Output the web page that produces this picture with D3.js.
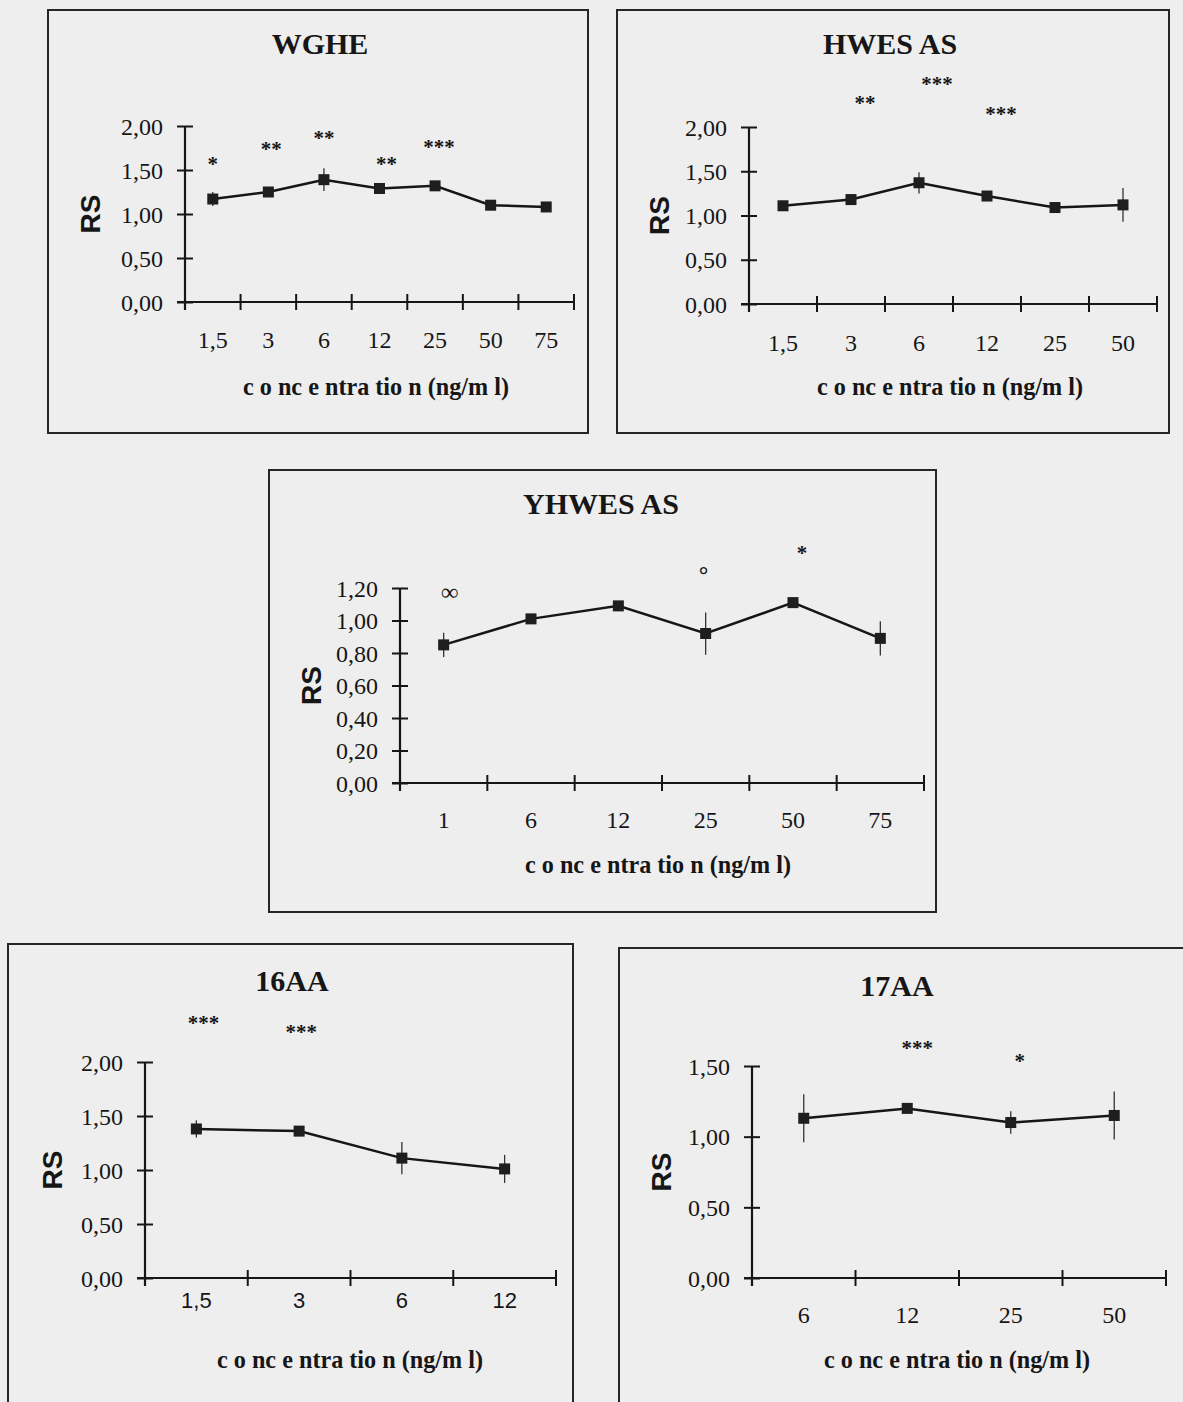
<!DOCTYPE html>
<html>
<head>
<meta charset="utf-8">
<script src="https://cdn.jsdelivr.net/npm/d3@7"></script>
<style>
  body { margin: 0; background: #eeeeee; }
  svg { display: block; }
</style>
</head>
<body>
<div id="fig"></div>
<script>
// Data (RS = mean, err = error bar half length)
const wgheConc = ["1,5", "3", "6", "12", "25", "50", "75"];
const wgheRS   = [1.17, 1.25, 1.39, 1.29, 1.32, 1.10, 1.08];
const wgheErr  = [0.08, 0.04, 0.13, 0.04, 0.04, 0.03, 0.03];
const wgheSig  = ["*", "**", "**", "**", "***", "", ""];

const hwesConc = ["1,5", "3", "6", "12", "25", "50"];
const hwesRS   = [1.11, 1.18, 1.37, 1.22, 1.09, 1.12];
const hwesErr  = [0.04, 0.04, 0.12, 0.04, 0.03, 0.19];
const hwesSig  = ["", "**", "***", "***", "", ""];

const yhwesConc = ["1", "6", "12", "25", "50", "75"];
const yhwesRS   = [0.85, 1.01, 1.09, 0.92, 1.11, 0.89];
const yhwesErr  = [0.075, 0.02, 0.02, 0.13, 0.03, 0.105];
const yhwesSig  = ["\u221E", "", "", "\u00B0", "*", ""];

const aa16Conc = ["1,5", "3", "6", "12"];
const aa16RS   = [1.38, 1.36, 1.11, 1.01];
const aa16Err  = [0.08, 0.04, 0.15, 0.13];
const aa16Sig  = ["***", "***", "", ""];

const aa17Conc = ["6", "12", "25", "50"];
const aa17RS   = [1.13, 1.20, 1.10, 1.15];
const aa17Err  = [0.17, 0.03, 0.08, 0.17];
const aa17Sig  = ["", "***", "*", ""];

const ticks2  = [0, 0.5, 1, 1.5, 2];
const ticks12 = [0, 0.2, 0.4, 0.6, 0.8, 1.0, 1.2];
const ticks15 = [0, 0.5, 1, 1.5];

const xTitle = "c o nc e ntra tio n (ng/m l)";

// Panel layout (pixels) + height of the significance marks in RS units
const panels = [
  { title: "WGHE", conc: wgheConc, rs: wgheRS, err: wgheErr, sig: wgheSig,
    sigAt: [1.61, 1.78, 1.90, 1.61, 1.80, 0, 0], sigDx: [0, 3, 0, 7, 4, 0, 0],
    ticks: ticks2, box: [48, 10, 588, 433], x0: 185, x1: 574, yTop: 126, yBot: 302,
    titleX: 320, titleY: 54, tickY: 348, labX: 376, labY: 395, rsX: 90, sans: false },
  { title: "HWES AS", conc: hwesConc, rs: hwesRS, err: hwesErr, sig: hwesSig,
    sigAt: [0, 2.31, 2.52, 2.19, 0, 0], sigDx: [0, 14, 18, 14, 0, 0],
    ticks: ticks2, box: [617, 10, 1169, 433], x0: 749, x1: 1157, yTop: 127, yBot: 304,
    titleX: 890, titleY: 54, tickY: 351, labX: 950, labY: 395, rsX: 659, sans: false },
  { title: "YHWES AS", conc: yhwesConc, rs: yhwesRS, err: yhwesErr, sig: yhwesSig,
    sigAt: [1.17, 0, 0, 1.32, 1.44, 0], sigDx: [6, 0, 0, -2, 9, 0],
    ticks: ticks12, box: [269, 470, 936, 912], x0: 400, x1: 924, yTop: 588, yBot: 783,
    titleX: 601, titleY: 514, tickY: 828, labX: 658, labY: 873, rsX: 311, sans: false },
  { title: "16AA", conc: aa16Conc, rs: aa16RS, err: aa16Err, sig: aa16Sig,
    sigAt: [2.39, 2.31, 0, 0], sigDx: [7, 2, 0, 0],
    ticks: ticks2, box: [8, 944, 573, 1430], x0: 145, x1: 556, yTop: 1062, yBot: 1278,
    titleX: 292, titleY: 991, tickY: 1308, labX: 350, labY: 1368, rsX: 52, sans: true },
  { title: "17AA", conc: aa17Conc, rs: aa17RS, err: aa17Err, sig: aa17Sig,
    sigAt: [0, 1.65, 1.56, 0], sigDx: [0, 10, 9, 0],
    ticks: ticks15, box: [619, 948, 1210, 1430], x0: 752, x1: 1166, yTop: 1066, yBot: 1278,
    titleX: 897, titleY: 996, tickY: 1323, labX: 957, labY: 1368, rsX: 661, sans: false }
];

const ink = "#161616";
const serif = "'Liberation Serif', 'Times New Roman', serif";
const sans = "'Liberation Sans', Arial, sans-serif";

const svg = d3.select("#fig").append("svg")
    .attr("width", 1183)
    .attr("height", 1402);

svg.append("rect").attr("width", 1183).attr("height", 1402).attr("fill", "#eeeeee");

const fmt = d => d.toFixed(2).replace(".", ",");

panels.forEach(p => {
  const g = svg.append("g");

  // frame
  g.append("rect")
      .attr("x", p.box[0]).attr("y", p.box[1])
      .attr("width", p.box[2] - p.box[0]).attr("height", p.box[3] - p.box[1])
      .attr("fill", "none").attr("stroke", "#262626").attr("stroke-width", 2);

  // title
  g.append("text")
      .attr("x", p.titleX).attr("y", p.titleY)
      .attr("text-anchor", "middle")
      .style("font-family", serif).style("font-weight", "bold").style("font-size", "30px")
      .style("fill", ink)
      .text(p.title);

  const x = d3.scaleBand().domain(p.conc).range([p.x0, p.x1]).padding(0);
  const y = d3.scaleLinear().domain([0, d3.max(p.ticks)]).range([p.yBot, p.yTop]);

  // y axis
  const ya = g.append("g")
      .attr("transform", `translate(${p.x0},0)`)
      .call(d3.axisLeft(y).tickValues(p.ticks).tickFormat(fmt).tickSize(8).tickPadding(14));
  ya.select(".domain").remove();
  ya.selectAll(".tick line").attr("x1", 8).attr("stroke", ink).attr("stroke-width", 2);
  ya.selectAll(".tick text")
      .style("font-family", serif).style("font-size", "24px").style("fill", ink)
      .attr("dy", "0.34em");
  ya.append("line")
      .attr("y1", p.yTop).attr("y2", p.yBot + 8)
      .attr("stroke", ink).attr("stroke-width", 2.2);

  // x axis: labels at band centres, tick marks at band edges
  const xa = g.append("g")
      .attr("transform", `translate(0,${p.yBot})`)
      .call(d3.axisBottom(x).tickSize(0));
  xa.select(".domain").remove();
  xa.selectAll(".tick text")
      .attr("y", p.tickY - p.yBot).attr("dy", 0)
      .style("font-family", p.sans ? sans : serif)
      .style("font-size", p.sans ? "22px" : "24px")
      .style("fill", ink);
  xa.append("line")
      .attr("x1", p.x0 - 8).attr("x2", p.x1)
      .attr("stroke", ink).attr("stroke-width", 2.2);
  xa.selectAll(".edge")
      .data(d3.range(p.conc.length + 1).map(i => p.x0 + i * x.step()))
    .enter().append("line")
      .attr("class", "edge")
      .attr("x1", d => d).attr("x2", d => d)
      .attr("y1", -8).attr("y2", 8)
      .attr("stroke", ink).attr("stroke-width", 2);

  // axis titles
  g.append("text")
      .attr("x", p.labX).attr("y", p.labY)
      .attr("text-anchor", "middle")
      .attr("textLength", 266).attr("lengthAdjust", "spacingAndGlyphs")
      .style("font-family", serif).style("font-weight", "bold").style("font-size", "26px")
      .style("fill", ink)
      .text(xTitle);

  const midY = (p.yTop + p.yBot) / 2;
  g.append("text")
      .attr("transform", `translate(${p.rsX},${midY}) rotate(-90)`)
      .attr("text-anchor", "middle").attr("dy", "0.36em")
      .style("font-family", sans).style("font-weight", "bold").style("font-size", "28px")
      .style("fill", ink)
      .text("RS");

  const pts = p.conc.map((c, i) => ({ c, v: p.rs[i], e: p.err[i], s: p.sig[i], sy: p.sigAt[i], dx: p.sigDx[i] }));
  const cx = d => x(d.c) + x.bandwidth() / 2;

  // error bars
  g.selectAll(".err")
      .data(pts)
    .enter().append("line")
      .attr("x1", cx).attr("x2", cx)
      .attr("y1", d => y(d.v - d.e)).attr("y2", d => y(d.v + d.e))
      .attr("stroke", "#333").attr("stroke-width", 1.3);

  // line
  g.append("path")
      .datum(pts)
      .attr("fill", "none").attr("stroke", ink).attr("stroke-width", 2.5)
      .attr("d", d3.line().x(cx).y(d => y(d.v)));

  // markers
  g.selectAll(".mk")
      .data(pts)
    .enter().append("rect")
      .attr("x", d => cx(d) - 5.5).attr("y", d => y(d.v) - 5.5)
      .attr("width", 11).attr("height", 11)
      .attr("fill", "#1e1e1e");

  // significance marks
  g.selectAll(".sig")
      .data(pts.filter(d => d.s))
    .enter().append("text")
      .attr("x", d => cx(d) + d.dx).attr("y", d => y(d.sy))
      .attr("dy", d => d.s === "\u221E" ? "0.3em" : d.s === "\u00B0" ? "0.62em" : "0.5em")
      .attr("text-anchor", "middle")
      .style("font-family", serif).style("font-weight", "bold")
      .style("font-size", d => d.s === "\u221E" || d.s === "\u00B0" ? "24px" : "21px")
      .style("fill", ink)
      .text(d => d.s);
});
</script>
</body>
</html>
